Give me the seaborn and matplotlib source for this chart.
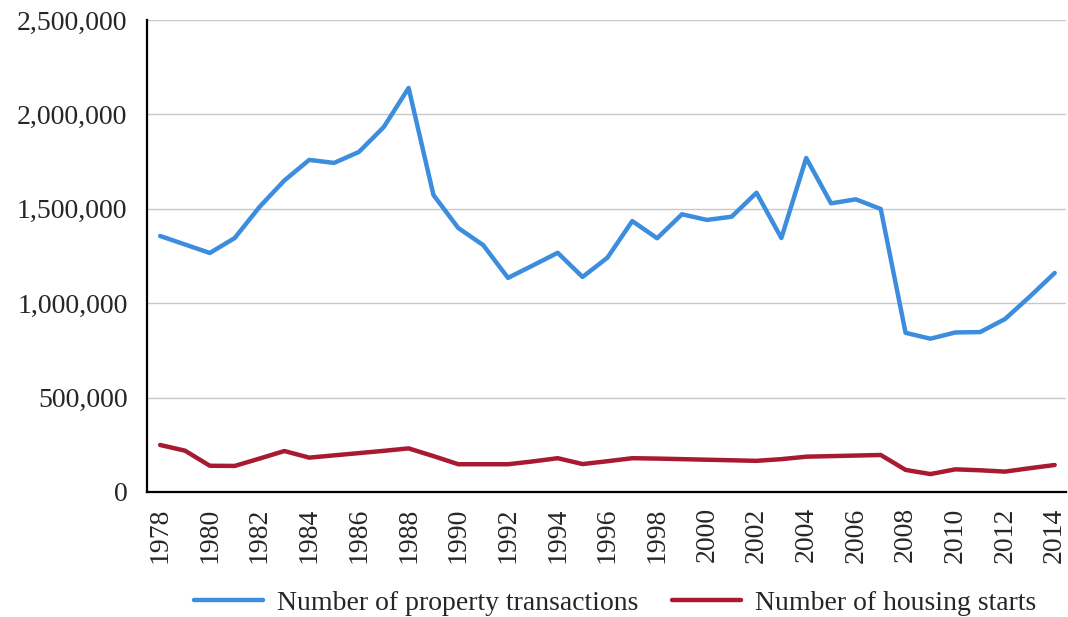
import matplotlib
matplotlib.use("Agg")
import matplotlib.pyplot as plt
import matplotlib.ticker as mticker
import pandas as pd
import seaborn as sns

years = list(range(1978, 2015))

transactions = [
    1356000, 1311000, 1266000, 1345000, 1510000, 1650000, 1759000, 1743000,
    1801000, 1933000, 2140000, 1573000, 1398000, 1308000, 1134000, 1200000,
    1267000, 1139000, 1241000, 1435000, 1344000, 1471000, 1441000, 1458000,
    1585000, 1345000, 1769000, 1529000, 1550000, 1499000, 843000, 812000,
    845000, 847000, 916000, 1035000, 1160000,
]

housing_starts = [
    249000, 219000, 139000, 138000, 177000, 217000, 182000, 194000,
    206000, 218000, 231000, 190000, 147000, 147000, 147000, 162000,
    179000, 148000, 163000, 179000, 177000, 174000, 171000, 168000,
    165000, 174000, 187000, 190000, 193000, 196000, 117000, 95000,
    120000, 115000, 108000, 126000, 143000,
]

labels = ["Number of property transactions", "Number of housing starts"]
colors = ["#3c8ddd", "#a81a30"]

df = pd.concat([
    pd.DataFrame({"year": years, "value": transactions, "series": labels[0]}),
    pd.DataFrame({"year": years, "value": housing_starts, "series": labels[1]}),
])

sns.set_style("white")
plt.rcParams["font.family"] = ["Liberation Serif", "DejaVu Serif"]
plt.rcParams["font.size"] = 20

fig = plt.figure(figsize=(10.68, 6.17), dpi=100)
ax = fig.add_axes([0.1376, 0.2026, 0.8604, 0.765])

sns.lineplot(
    data=df, x="year", y="value", hue="series",
    palette=dict(zip(labels, colors)), linewidth=3.2, ax=ax, legend=False,
)

ax.set_xlim(1977.47, 2014.45)
ax.set_ylim(0, 2500000)
ax.set_xticks(years[::2])
ax.set_yticks(range(0, 2500001, 500000))
ax.yaxis.set_major_formatter(mticker.FuncFormatter(lambda v, p: f"{int(v):,}"))
ax.tick_params(axis="x", rotation=90, length=0, pad=11, labelsize=20)
ax.tick_params(axis="y", length=0, pad=14, labelsize=20)
ax.set_xlabel("")
ax.set_ylabel("")

ax.grid(axis="y", color="#c8c8c8", linewidth=1)
ax.set_axisbelow(True)
for s in ["top", "right"]:
    ax.spines[s].set_visible(False)
for s in ["left", "bottom"]:
    ax.spines[s].set_color("black")
    ax.spines[s].set_linewidth(1.6)

handles = [plt.Line2D([], [], color=c, linewidth=3.2) for c in colors]
fig.legend(
    handles, labels, loc="center", bbox_to_anchor=(615 / 1068, 1 - 603 / 617),
    ncol=2, frameon=False, fontsize=20, handlelength=2.5,
    handletextpad=0.5, columnspacing=1.2,
)

fig.savefig("out.png", dpi=100)
